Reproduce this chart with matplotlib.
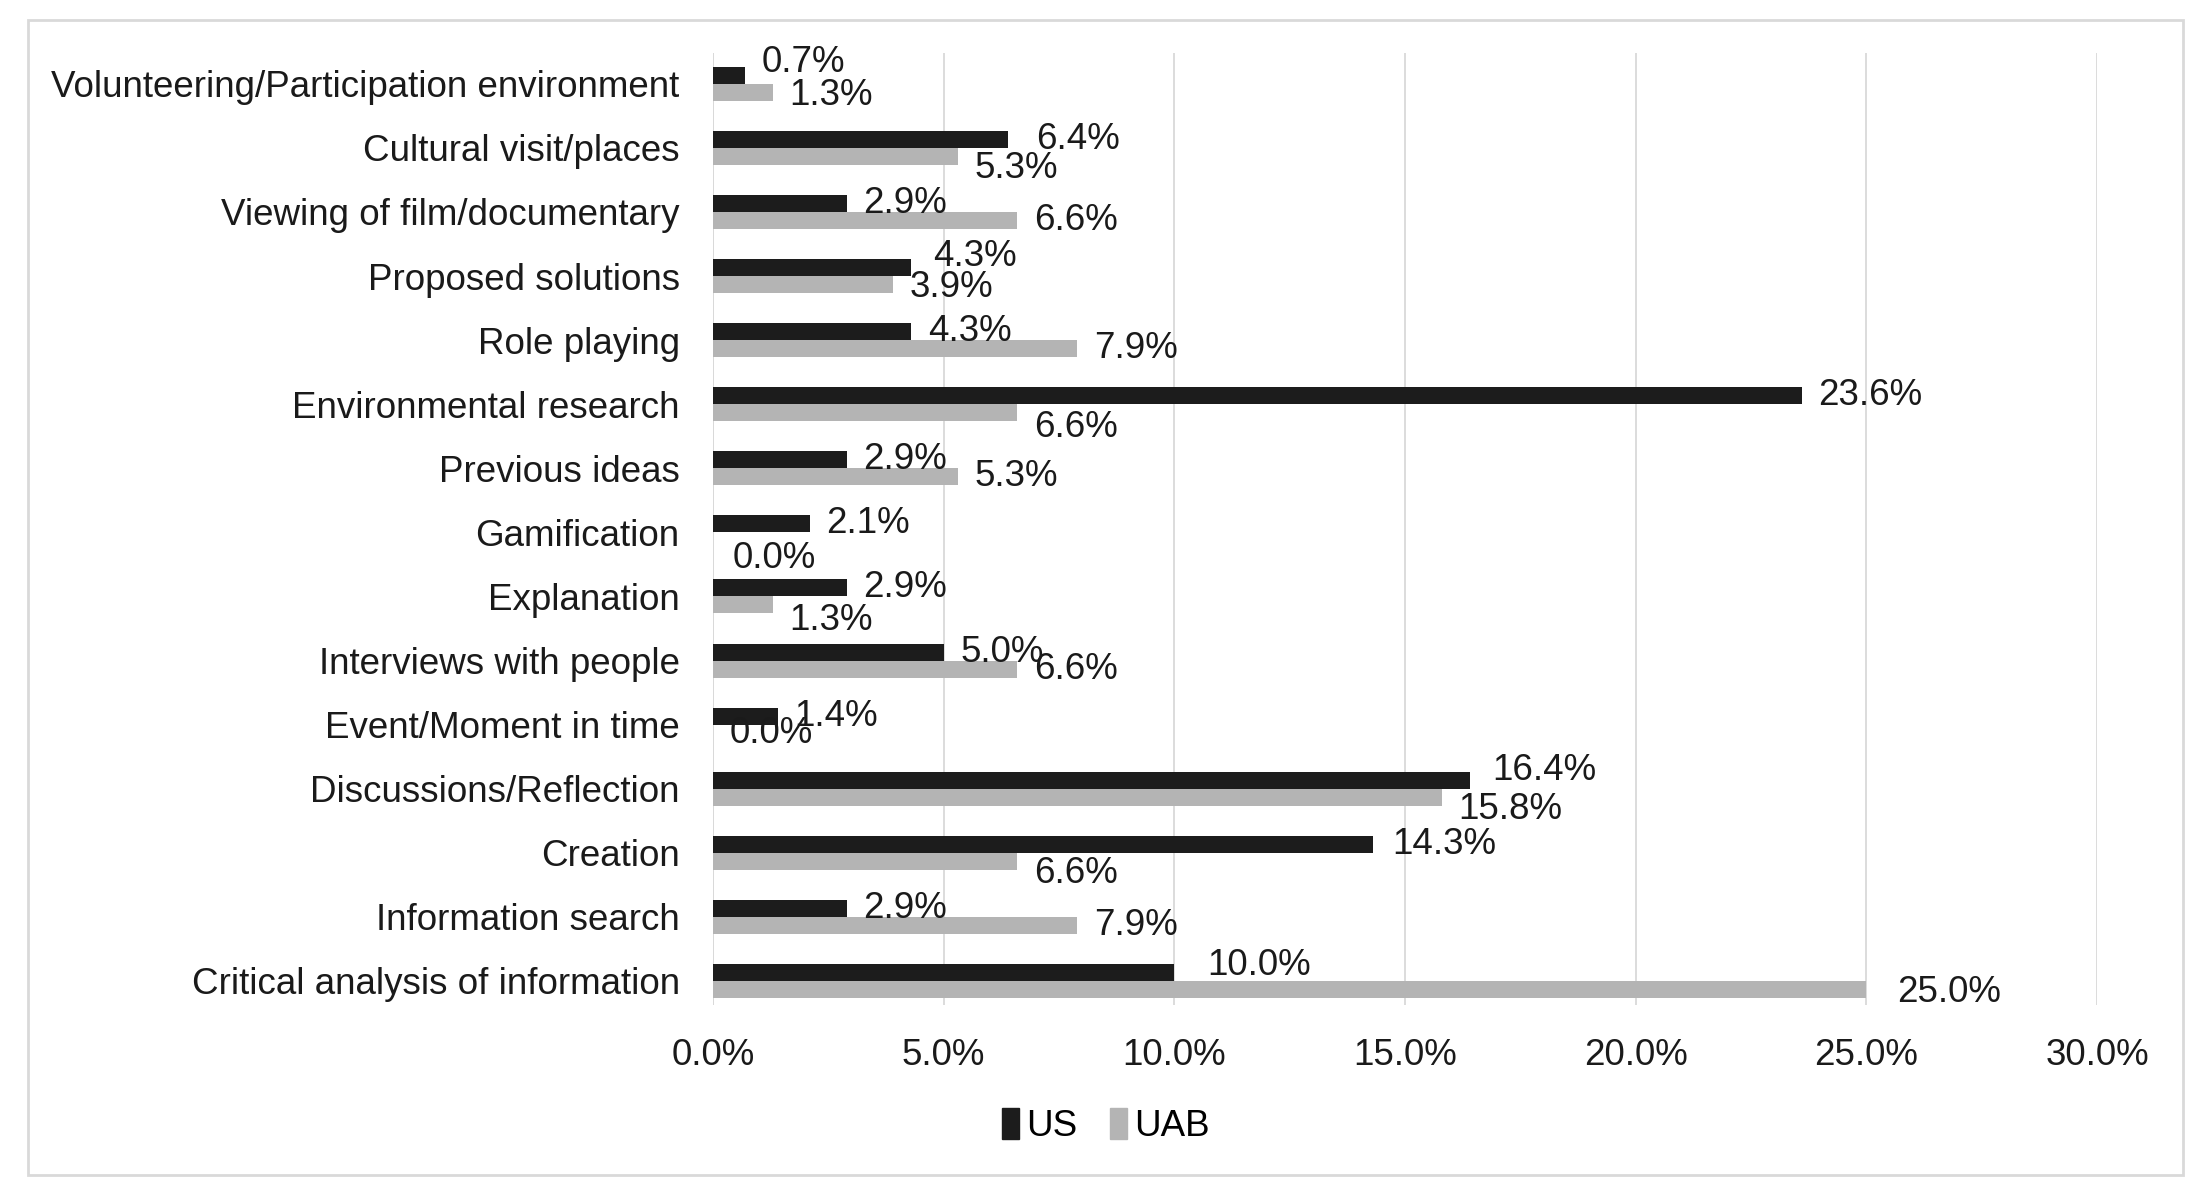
import numpy as np
import matplotlib.pyplot as plt
from matplotlib.patches import Patch, Rectangle

plt.rcParams['font.family'] = ['Liberation Sans', 'DejaVu Sans']

categories = [
    "Volunteering/Participation environment",
    "Cultural visit/places",
    "Viewing of film/documentary",
    "Proposed solutions",
    "Role playing",
    "Environmental research",
    "Previous ideas",
    "Gamification",
    "Explanation",
    "Interviews with people",
    "Event/Moment in time",
    "Discussions/Reflection",
    "Creation",
    "Information search",
    "Critical analysis of information",
]
us = [0.7, 6.4, 2.9, 4.3, 4.3, 23.6, 2.9, 2.1, 2.9, 5.0, 1.4, 16.4, 14.3, 2.9, 10.0]
uab = [1.3, 5.3, 6.6, 3.9, 7.9, 6.6, 5.3, 0.0, 1.3, 6.6, 0.0, 15.8, 6.6, 7.9, 25.0]

# label nudges in points (dx, dy; dy positive = down), mimicking Excel placement
us_nudge = {0: (0, -9), 1: (8, 0), 3: (4, -8), 11: (4, -7), 12: (2, 0), 14: (12, -5)}
uab_nudge = {0: (0, 2), 1: (0, 9), 3: (0, 2), 5: (0, 11), 7: (2, 13), 8: (0, 11),
             11: (0, 9), 12: (0, 9), 14: (10, 2)}

dark = "#1c1c1c"
light = "#b4b4b4"
fs = 26.5

fig = plt.figure(figsize=(22.04, 11.91), dpi=100)
ax = fig.add_axes([713 / 2204, 1 - 1005 / 1191, (2097 - 713) / 2204, (1005 - 53) / 1191])

y = np.arange(len(categories))
h = 0.265
ax.barh(y - h / 2, us, height=h, color=dark, label="US", zorder=3)
ax.barh(y + h / 2, uab, height=h, color=light, label="UAB", zorder=3)

for i in range(len(categories)):
    dx, dy = us_nudge.get(i, (0, 0))
    ax.annotate(f"{us[i]:.1f}%", (us[i], y[i] - h / 2), xytext=(12 + dx, -dy),
                textcoords="offset points", va="center", ha="left", fontsize=fs, color="#1a1a1a")
    dx, dy = uab_nudge.get(i, (0, 0))
    ax.annotate(f"{uab[i]:.1f}%", (uab[i], y[i] + h / 2), xytext=(12 + dx, -dy),
                textcoords="offset points", va="center", ha="left", fontsize=fs, color="#1a1a1a")

ax.set_xlim(0, 30)
ax.set_ylim(len(categories) - 1 + 0.375, -0.48)
ax.set_xticks(np.arange(0, 31, 5))
ax.set_xticklabels([f"{v:.1f}%" for v in np.arange(0, 31, 5)], fontsize=fs)
ax.set_yticks(y)
ax.set_yticklabels(categories, fontsize=fs)
ax.tick_params(axis="both", length=0, colors="#1a1a1a")
ax.tick_params(axis="x", pad=24)
ax.tick_params(axis="y", pad=24)
ax.grid(axis="x", color="#d9d9d9", linewidth=1.3, zorder=0)
ax.axvline(0, color="#d9d9d9", linewidth=1.3, zorder=0)
for s in ax.spines.values():
    s.set_visible(False)

handles = [Patch(color=dark, label="US"), Patch(color=light, label="UAB")]
fig.legend(handles=handles, loc="center", bbox_to_anchor=(1106 / 2204, 1 - 1126 / 1191),
           ncol=2, frameon=False, fontsize=fs, handlelength=0.45, handleheight=0.9,
           handletextpad=0.2, columnspacing=0.9)

fig.patches.append(Rectangle((28 / 2204, 1 - 1175 / 1191), (2183 - 28) / 2204, (1175 - 20) / 1191,
                             transform=fig.transFigure, fill=False, edgecolor="#d9d9d9", linewidth=2))

fig.savefig("out.png", dpi=100, facecolor="white")
